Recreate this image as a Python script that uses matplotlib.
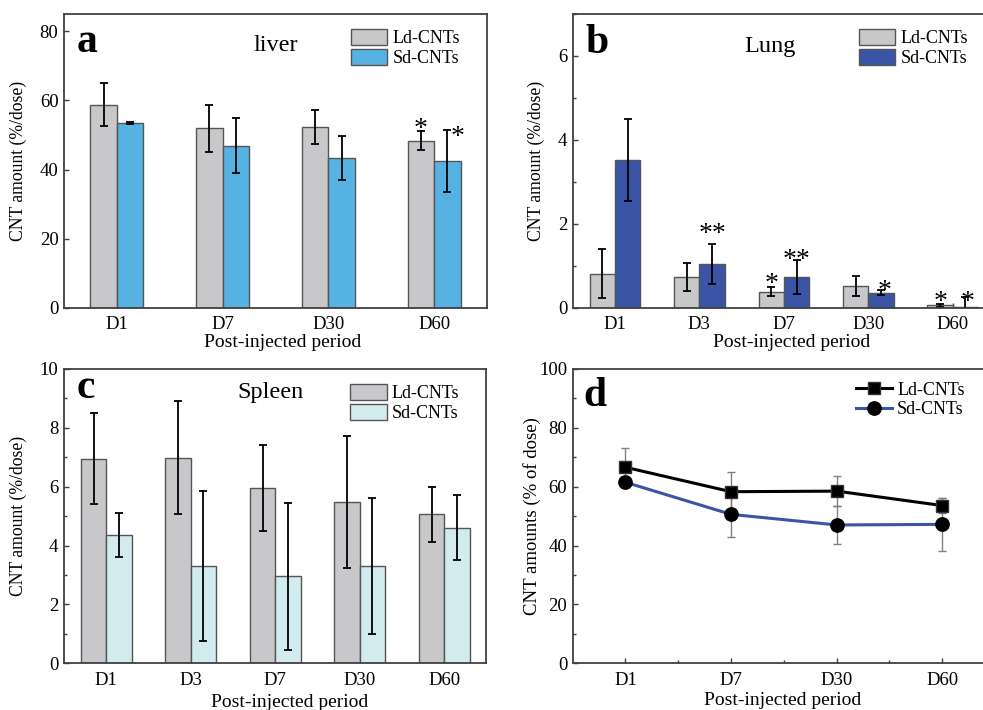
import numpy as np
import matplotlib.pyplot as plt
from matplotlib.ticker import MultipleLocator

plt.rcParams['font.family'] = ['Liberation Serif', 'DejaVu Serif']

# ---- data ----
# a: liver
liver_days = ['D1', 'D7', 'D30', 'D60']
liver_ld = [58.8, 52.0, 52.3, 48.4]
liver_ld_err = [6.3, 6.8, 5.0, 2.8]
liver_sd = [53.6, 46.9, 43.3, 42.5]
liver_sd_err = [0.3, 8.0, 6.4, 9.0]
# significance marks: (day index, mark, height of mark, sideways nudge)
liver_ld_sig = [(3, '*', 53.6, 0.0)]
liver_sd_sig = [(3, '*', 51.2, 0.1)]

# b: lung
lung_days = ['D1', 'D3', 'D7', 'D30', 'D60']
lung_ld = [0.82, 0.74, 0.39, 0.53, 0.06]
lung_ld_err = [0.59, 0.34, 0.10, 0.24, 0.04]
lung_sd = [3.52, 1.05, 0.74, 0.36, 0.03]
lung_sd_err = [0.98, 0.48, 0.40, 0.06, 0.22]
lung_ld_sig = [(2, '*', 0.71, 0.0), (4, '*', 0.28, 0.0)]
lung_sd_sig = [(1, '**', 1.90, 0.0), (2, '**', 1.29, 0.0),
               (3, '*', 0.55, 0.04), (4, '*', 0.28, 0.02)]

# c: spleen
spleen_days = ['D1', 'D3', 'D7', 'D30', 'D60']
spleen_ld = [6.95, 6.99, 5.95, 5.49, 5.06]
spleen_ld_err = [1.54, 1.93, 1.47, 2.24, 0.93]
spleen_sd = [4.36, 3.31, 2.96, 3.31, 4.61]
spleen_sd_err = [0.76, 2.56, 2.50, 2.30, 1.10]
spleen_ld_sig = []
spleen_sd_sig = []

# d: total
total_days = ['D1', 'D7', 'D30', 'D60']
total_ld = [66.6, 58.3, 58.5, 53.6]
total_ld_err = [6.4, 6.8, 5.0, 2.7]
total_sd = [61.5, 50.6, 47.0, 47.2]
total_sd_err = [0.3, 7.8, 6.3, 8.9]

GRAY = '#c8c8ca'
EDGE = '#555555'
SPINE = '#404040'


def style_axes(ax):
    for s in ax.spines.values():
        s.set_color(SPINE)
        s.set_linewidth(1.3)
    ax.tick_params(which='both', direction='in', colors=SPINE, labelcolor='black')
    ax.tick_params(which='major', length=3.6, width=1.0, labelsize=13.5, pad=4)
    ax.tick_params(which='minor', length=2.5, width=1.0)
    ax.tick_params(axis='x', pad=6)


def bar_panel(ax, days, ld, ld_err, sd, sd_err, ld_sig, sd_sig, sd_color,
              width, organ, organ_x, organ_y, letter, letter_y, ymax, major,
              minor, ylab_x, xlab_x, xlab_y):
    x = np.arange(len(days))
    ekw = dict(ecolor='black', elinewidth=1.3, capsize=3, capthick=1.3)
    ax.bar(x - width / 2, ld, width, color=GRAY, edgecolor=EDGE, linewidth=1,
           yerr=ld_err, error_kw=ekw, label='Ld-CNTs')
    ax.bar(x + width / 2, sd, width, color=sd_color, edgecolor=EDGE, linewidth=1,
           yerr=sd_err, error_kw=ekw, label='Sd-CNTs')
    for xs, sig in [(x - width / 2, ld_sig), (x + width / 2, sd_sig)]:
        for i, s, yc, dx in sig:
            ax.annotate(s, xy=(xs[i] + dx, yc), xytext=(0, -9.3),
                        textcoords='offset points', ha='center',
                        va='baseline', fontsize=20)
    ax.set_axisbelow(True)
    ax.set_xlim(-0.5, len(days) - 0.5)
    ax.set_ylim(0, ymax)
    ax.set_xticks(x)
    ax.set_xticklabels(days)
    ax.yaxis.set_major_locator(MultipleLocator(major))
    if minor:
        ax.yaxis.set_minor_locator(MultipleLocator(minor))
    style_axes(ax)
    ax.set_ylabel('CNT amount (%/dose)', fontsize=12.7)
    ax.set_xlabel('Post-injected period', fontsize=14)
    ax.yaxis.set_label_coords(ylab_x, 0.5)
    ax.xaxis.set_label_coords(xlab_x, xlab_y)
    ax.text(organ_x, organ_y, organ, transform=ax.transAxes, ha='center',
            va='baseline', fontsize=17.5)
    ax.text(0.03, letter_y, letter, transform=ax.transAxes, ha='left',
            va='baseline', fontsize=30, fontweight='bold')
    ax.legend(loc='upper right', bbox_to_anchor=(0.936, 0.948), frameon=False,
              fontsize=13, handlelength=2.0, handleheight=0.95,
              handletextpad=0.3, labelspacing=0.12, borderpad=0,
              borderaxespad=0)


fig = plt.figure(figsize=(9.83, 7.10), dpi=100)
ax_a = fig.add_axes([0.0651, 0.5662, 0.4303, 0.4141])
ax_b = fig.add_axes([0.5826, 0.5662, 0.4296, 0.4141])
ax_c = fig.add_axes([0.0651, 0.0658, 0.4298, 0.4145])
ax_d = fig.add_axes([0.5826, 0.0658, 0.4296, 0.4145])

bar_panel(ax_a, liver_days, liver_ld, liver_ld_err, liver_sd, liver_sd_err,
          liver_ld_sig, liver_sd_sig, '#57b2e4', 0.25, 'liver', 0.50, 0.875,
          'a', 0.872, 85, 20, None, -0.088, 0.518, -0.087)
bar_panel(ax_b, lung_days, lung_ld, lung_ld_err, lung_sd, lung_sd_err,
          lung_ld_sig, lung_sd_sig, '#3a55a6', 0.3, 'Lung', 0.467, 0.872,
          'b', 0.866, 7, 2, 1, -0.066, 0.519, -0.09)
bar_panel(ax_c, spleen_days, spleen_ld, spleen_ld_err, spleen_sd, spleen_sd_err,
          spleen_ld_sig, spleen_sd_sig, '#d2ebee', 0.3, 'Spleen', 0.488, 0.90,
          'c', 0.90, 10, 2, 1, -0.088, 0.535, -0.103)

# d: line panel
x = np.arange(len(total_days))
ax_d.errorbar(x, total_ld, yerr=total_ld_err, fmt='none', ecolor='#808080',
              elinewidth=1, capsize=3, capthick=1, zorder=1)
ax_d.errorbar(x, total_sd, yerr=total_sd_err, fmt='none', ecolor='#808080',
              elinewidth=1, capsize=3, capthick=1, zorder=1)
ax_d.plot(x, total_ld, '-s', color='black', lw=2.2, ms=8.6, mfc='black',
          mec='#333333', label='Ld-CNTs', zorder=3)
ax_d.plot(x, total_sd, '-o', color='#3a55a6', lw=2.2, ms=9.6, mfc='black',
          mec='black', label='Sd-CNTs', zorder=2)
ax_d.set_xlim(-0.5, len(total_days) - 0.5)
ax_d.set_ylim(0, 100)
ax_d.set_xticks(x)
ax_d.set_xticklabels(total_days)
ax_d.set_xticks(x[:-1] + 0.5, minor=True)
ax_d.yaxis.set_major_locator(MultipleLocator(20))
ax_d.yaxis.set_minor_locator(MultipleLocator(10))
style_axes(ax_d)
ax_d.set_ylabel('CNT amounts (% of dose)', fontsize=13.5)
ax_d.set_xlabel('Post-injected period', fontsize=14)
ax_d.yaxis.set_label_coords(-0.075, 0.5)
ax_d.xaxis.set_label_coords(0.498, -0.097)
ax_d.text(0.025, 0.875, 'd', transform=ax_d.transAxes, ha='left',
          va='baseline', fontsize=30, fontweight='bold')
ax_d.legend(loc='upper right', bbox_to_anchor=(0.928, 0.957), frameon=False,
            fontsize=13, handlelength=2.0, handletextpad=0.3,
            labelspacing=0.15, borderpad=0, borderaxespad=0)

fig.savefig('out.png', dpi=100)
